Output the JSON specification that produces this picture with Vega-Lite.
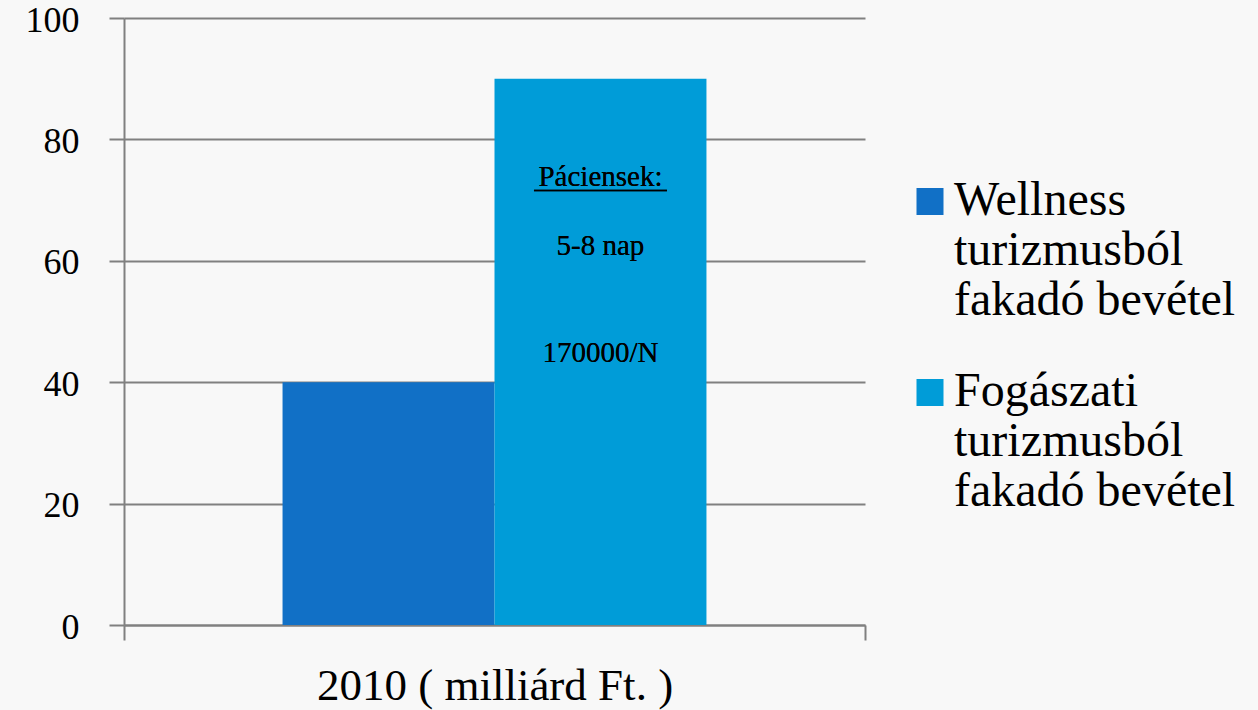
{
  "$schema": "https://vega.github.io/schema/vega-lite/v6.json",
  "width": 741,
  "height": 607,
  "autosize": {"type": "none"},
  "padding": {"left": 124, "top": 18, "right": 393, "bottom": 85},
  "background": "#f8f8f8",
  "config": {
    "font": "Liberation Serif",
    "view": {"stroke": null}
  },
  "data": {
    "values": [
      {"ev": "2010 ( milliárd Ft. )", "sorozat": "Wellness turizmusból fakadó bevétel", "ertek": 40},
      {"ev": "2010 ( milliárd Ft. )", "sorozat": "Fogászati turizmusból fakadó bevétel", "ertek": 90}
    ]
  },
  "encoding": {
    "x": {
      "field": "ev", "type": "nominal",
      "scale": {"paddingInner": 0, "paddingOuter": 0},
      "axis": {
        "title": null, "labelAngle": 0, "labelFontSize": 45, "labelColor": "#000", "labelLimit": 0,
        "labelPadding": 23, "tickBand": "extent", "tickSize": 15, "tickWidth": 2,
        "tickColor": "#808080", "domainColor": "#808080", "domainWidth": 2, "grid": false
      }
    },
    "xOffset": {
      "field": "sorozat", "type": "nominal",
      "scale": {"domain": ["Wellness turizmusból fakadó bevétel", "Fogászati turizmusból fakadó bevétel"], "paddingInner": 0, "paddingOuter": 0.748}
    }
  },
  "layer": [
    {
      "mark": {"type": "bar"},
      "encoding": {
        "y": {
          "field": "ertek", "type": "quantitative",
          "scale": {"domain": [0, 100], "nice": false},
          "axis": {
            "title": null, "values": [0, 20, 40, 60, 80, 100], "labelFontSize": 36, "labelColor": "#000",
            "labelPadding": 30, "labelOffset": 2, "tickSize": 15, "tickWidth": 2, "tickColor": "#808080",
            "gridColor": "#808080", "gridWidth": 2, "gridOpacity": 1, "domainColor": "#808080", "domainWidth": 2
          }
        },
        "color": {
          "field": "sorozat", "type": "nominal",
          "scale": {"domain": ["Wellness turizmusból fakadó bevétel", "Fogászati turizmusból fakadó bevétel"], "range": ["#1170C6", "#009CD8"]},
          "legend": {
            "title": null, "orient": "none", "legendX": 782, "legendY": 173, "padding": 0,
            "symbolType": "M-1,-2H1V0H-1Z", "symbolSize": 729, "symbolStrokeWidth": 0,
            "labelFontSize": 48, "labelColor": "#000", "labelLimit": 400, "labelBaseline": "alphabetic",
            "labelLineHeight": 58, "labelOffset": 0, "rowPadding": 43,
            "labelExpr": "split(replace(datum.label, ' turizmusból ', '|turizmusból|'), '|')"
          }
        }
      }
    },
    {
      "mark": {"type": "text", "text": "Páciensek:", "fontSize": 29, "baseline": "alphabetic", "color": "#000"},
      "encoding": {"xOffset": {"datum": "Fogászati turizmusból fakadó bevétel"}, "y": {"datum": 72.3, "type": "quantitative"}}
    },
    {
      "mark": {"type": "tick", "orient": "horizontal", "size": 133, "thickness": 1.5, "color": "#000", "opacity": 1},
      "encoding": {"xOffset": {"datum": "Fogászati turizmusból fakadó bevétel"}, "y": {"datum": 71.6, "type": "quantitative"}}
    },
    {
      "mark": {"type": "text", "text": "5-8 nap", "fontSize": 29, "baseline": "alphabetic", "color": "#000"},
      "encoding": {"xOffset": {"datum": "Fogászati turizmusból fakadó bevétel"}, "y": {"datum": 61.0, "type": "quantitative"}}
    },
    {
      "mark": {"type": "text", "text": "170000/N", "fontSize": 29, "baseline": "alphabetic", "color": "#000"},
      "encoding": {"xOffset": {"datum": "Fogászati turizmusból fakadó bevétel"}, "y": {"datum": 43.3, "type": "quantitative"}}
    }
  ]
}
